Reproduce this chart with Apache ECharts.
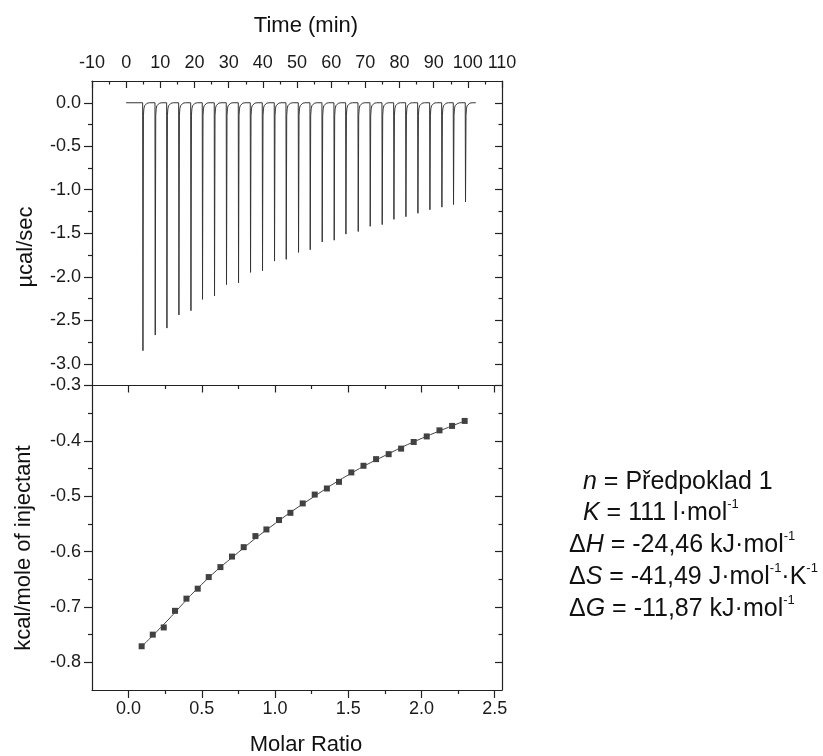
<!DOCTYPE html>
<html>
<head>
<meta charset="utf-8">
<script src="https://cdn.jsdelivr.net/npm/echarts@6/dist/echarts.min.js"></script>
<style>html,body{margin:0;padding:0;background:#fff}#c{width:823px;height:756px}</style>
</head>
<body>
<div id="c"></div>
<script>
// ---- Top panel: raw ITC thermogram ----
const timeTicks = [-10, 0, 10, 20, 30, 40, 50, 60, 70, 80, 90, 100, 110];
const timeMinor = [-5, 5, 15, 25, 35, 45, 55, 65, 75, 85, 95, 105];
const rawTicks = [0, -0.5, -1.0, -1.5, -2.0, -2.5, -3.0];
const rawMinor = [-0.25, -0.75, -1.25, -1.75, -2.25, -2.75];
const baselineStart = 0;
const baselineEnd = 102.3;
const peakTimes = [4.83, 8.43, 11.85, 15.36, 18.88, 22.27, 25.78, 29.29, 32.81, 36.32, 39.83, 43.34, 46.77, 50.37,
  53.79, 57.30, 60.81, 64.24, 67.84, 71.35, 74.86, 78.29, 81.80, 85.31, 88.82, 92.33, 95.73, 99.24];
const peakDepths = [-2.85, -2.67, -2.59, -2.44, -2.39, -2.26, -2.22, -2.09, -2.07, -1.95, -1.93, -1.82,
  -1.80, -1.72, -1.69, -1.60, -1.58, -1.51, -1.48, -1.42, -1.40, -1.34, -1.31, -1.27, -1.23, -1.20, -1.17, -1.14];
// recovery tail of each peak: [minutes after injection, µcal/sec]
const tailOffsets = [0.22, 0.35, 0.55, 0.85, 1.3, 2.0];
const tailValues = [-0.15, -0.07, -0.035, -0.015, -0.005, 0];
const peakMinOffset = 0.08;

// ---- Bottom panel: integrated heats ----
const molarTicks = [0, 0.5, 1.0, 1.5, 2.0, 2.5];
const molarMinor = [0.25, 0.75, 1.25, 1.75, 2.25];
const heatTicks = [-0.3, -0.4, -0.5, -0.6, -0.7, -0.8];
const heatMinor = [-0.35, -0.45, -0.55, -0.65, -0.75];
const molarRatio = [0.089, 0.165, 0.240, 0.317, 0.395, 0.472, 0.547, 0.627, 0.706, 0.786, 0.866, 0.941, 1.027, 1.105,
  1.189, 1.271, 1.354, 1.437, 1.521, 1.604, 1.690, 1.776, 1.861, 1.947, 2.036, 2.123, 2.209, 2.295];
const heats = [-0.771, -0.750, -0.737, -0.707, -0.685, -0.667, -0.646, -0.628, -0.609, -0.592, -0.572, -0.560, -0.543, -0.530,
  -0.513, -0.497, -0.486, -0.474, -0.457, -0.445, -0.433, -0.424, -0.414, -0.402, -0.392, -0.381, -0.373, -0.364];
const fitX = [0.088, 0.249, 0.5, 0.751, 1.002, 1.253, 1.504, 1.755, 2.006, 2.297];
const fitY = [-0.772, -0.729, -0.659, -0.601, -0.549, -0.503, -0.461, -0.426, -0.395, -0.364];

// ---- texts ----
const titleTop = 'Time (min)';
const titleBottom = 'Molar Ratio';
const titleRawY = 'µcal/sec';
const titleHeatY = 'kcal/mole of injectant';
const paramLines = [
  '{i|n} = Předpoklad 1',
  '{i|K} = 111 l·mol{s|-1}',
  'Δ{i|H} = -24,46 kJ·mol{s|-1}',
  'Δ{i|S} = -41,49 J·mol{s|-1}·K{s|-1}',
  'Δ{i|G} = -11,87 kJ·mol{s|-1}'
];

// build the thermogram trace
const rawData = [[baselineStart, 0]];
peakTimes.forEach((t, i) => {
  rawData.push([t, 0]);
  rawData.push([t + peakMinOffset, peakDepths[i]]);
  tailOffsets.forEach((o, k) => rawData.push([t + o, tailValues[k]]));
});
rawData.push([baselineEnd, 0]);
const heatData = molarRatio.map((x, i) => [x, heats[i]]);
const fitData = fitX.map((x, i) => [x, fitY[i]]);

const FONT = '"Liberation Sans", Arial, Helvetica, sans-serif';
const AX = '#222';
const lineSt = { color: AX, width: 1.2 };
function axis(grid, pos, min, max, opts) {
  return {
    type: 'value', gridIndex: grid, position: pos, min: min, max: max,
    splitLine: { show: false },
    axisLine: { show: !!opts.line, onZero: false, lineStyle: lineSt },
    axisTick: { show: true, inside: !!opts.inside, length: opts.len, customValues: opts.ticks, lineStyle: lineSt },
    axisLabel: opts.labels ? {
      show: true, customValues: opts.ticks, margin: opts.margin, fontSize: 18, color: '#1a1a1a', fontFamily: FONT,
      formatter: opts.fmt
    } : { show: false },
    minorTick: { show: false }
  };
}
const f1 = v => (Math.abs(v) < 1e-9 ? 0 : v).toFixed(1);
const f0 = v => String(Math.round(v));

const XMIN = -0.25, XMAX = 2.55;
const xAxes = [
  axis(0, 'top', -10, 110, { line: true, inside: true, len: 7, ticks: timeTicks, labels: true, margin: 9, fmt: f0 }),
  axis(0, 'top', -10, 110, { inside: true, len: 3.5, ticks: timeMinor }),
  axis(1, 'bottom', XMIN, XMAX, { line: true, inside: false, len: 8, ticks: molarTicks, labels: true, margin: 10, fmt: f1 }),
  axis(1, 'bottom', XMIN, XMAX, { inside: false, len: 4, ticks: molarMinor }),
  axis(1, 'top', XMIN, XMAX, { line: true, inside: true, len: 7, ticks: molarTicks }),
  axis(1, 'top', XMIN, XMAX, { inside: true, len: 3.5, ticks: molarMinor })
];
const yAxes = [
  axis(0, 'left', -3.25, 0.25, { line: true, inside: false, len: 8, ticks: rawTicks, labels: true, margin: 11, fmt: f1 }),
  axis(0, 'left', -3.25, 0.25, { inside: false, len: 4, ticks: rawMinor }),
  axis(0, 'right', -3.25, 0.25, { line: true, inside: true, len: 7, ticks: rawTicks }),
  axis(0, 'right', -3.25, 0.25, { inside: true, len: 3.5, ticks: rawMinor }),
  axis(1, 'left', -0.85, -0.3, { line: true, inside: false, len: 8, ticks: heatTicks, labels: true, margin: 11, fmt: f1 }),
  axis(1, 'left', -0.85, -0.3, { inside: false, len: 4, ticks: heatMinor }),
  axis(1, 'right', -0.85, -0.3, { line: true, inside: true, len: 7, ticks: heatTicks }),
  axis(1, 'right', -0.85, -0.3, { inside: true, len: 3.5, ticks: heatMinor })
];

function txt(x, y, text, size, rot) {
  return {
    type: 'text', x: x, y: y, rotation: rot || 0, silent: true,
    style: { text: text, fontSize: size, fontFamily: FONT, fill: '#111',
      align: 'center', verticalAlign: 'middle', textAlign: 'center', textVerticalAlign: 'middle' }
  };
}
const paramX = [583, 583, 569, 569, 569];
const paramY = [482, 513, 545, 577, 609];
const graphics = [
  txt(306, 26, titleTop, 22),
  txt(306, 745, titleBottom, 22),
  txt(26, 247, titleRawY, 22, Math.PI / 2),
  txt(24, 548, titleHeatY, 22, Math.PI / 2)
];
paramLines.forEach((s, i) => {
  graphics.push({
    type: 'text', x: paramX[i], y: paramY[i], silent: true,
    style: {
      text: s, fontSize: 25, fontFamily: FONT, fill: '#111', lineHeight: 30,
      align: 'left', verticalAlign: 'middle', textAlign: 'left', textVerticalAlign: 'middle',
      rich: {
        i: { fontStyle: 'italic', fontSize: 25, fontFamily: FONT, lineHeight: 30, fill: '#111', color: '#111' },
        s: { fontSize: 13, fontFamily: FONT, lineHeight: 16, verticalAlign: 'top', fill: '#111', color: '#111' }
      }
    }
  });
});

const chart = echarts.init(document.getElementById('c'), null, { renderer: 'canvas' });
chart.setOption({
  animation: false,
  backgroundColor: '#fff',
  grid: [
    { left: 92, top: 81, width: 410, height: 304.5 },
    { left: 92, top: 385.5, width: 410, height: 304.5 }
  ],
  xAxis: xAxes,
  yAxis: yAxes,
  series: [
    { type: 'line', xAxisIndex: 0, yAxisIndex: 0, data: rawData, symbol: 'none', smooth: false,
      lineStyle: { color: '#333', width: 1 } },
    { type: 'line', xAxisIndex: 2, yAxisIndex: 4, data: fitData, symbol: 'none', smooth: true,
      lineStyle: { color: '#444', width: 1 } },
    { type: 'scatter', xAxisIndex: 2, yAxisIndex: 4, data: heatData, symbol: 'rect', symbolSize: 6,
      itemStyle: { color: '#111' } }
  ],
  graphic: graphics
});
</script>
</body>
</html>
